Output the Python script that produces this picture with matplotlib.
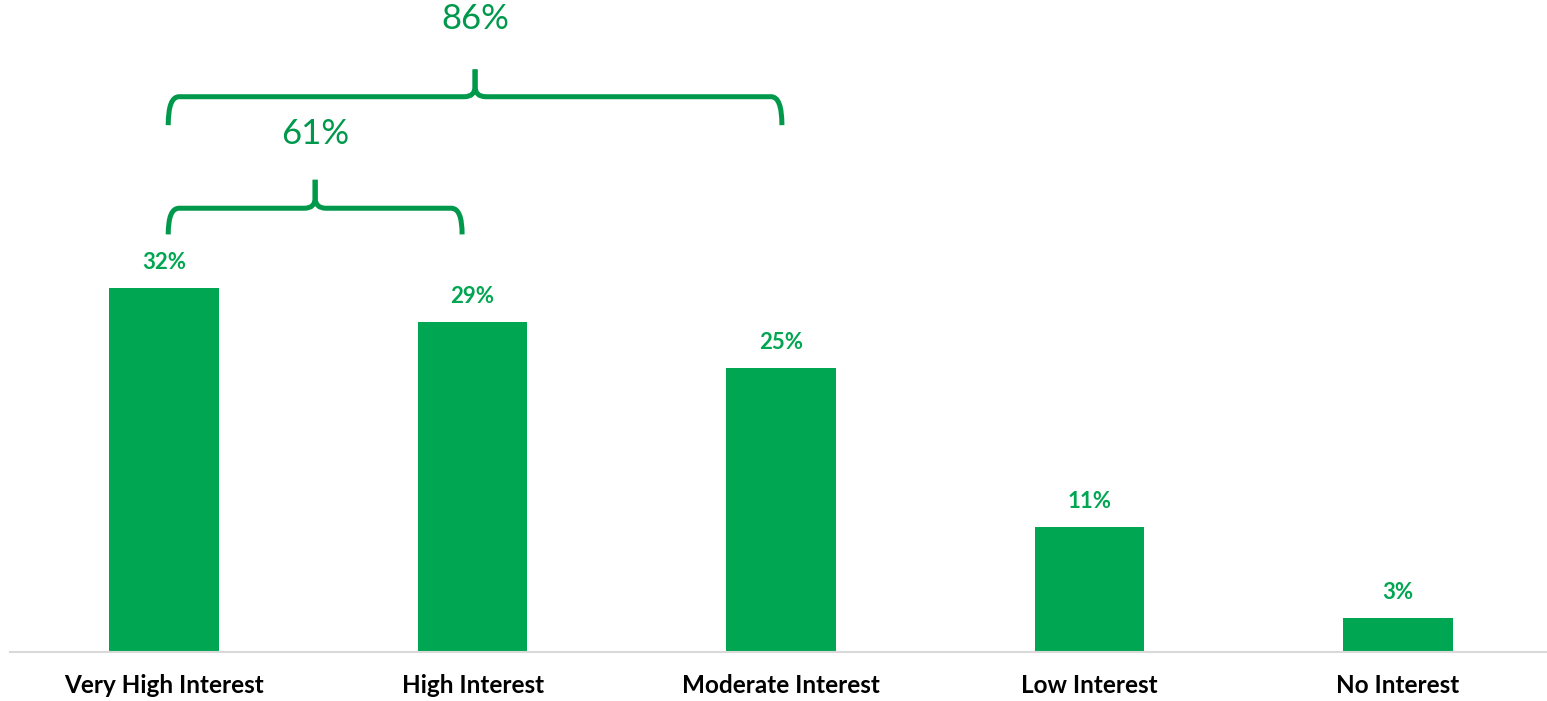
import matplotlib
matplotlib.use("Agg")
import matplotlib.pyplot as plt
from matplotlib.path import Path
from matplotlib.patches import PathPatch
import numpy as np

categories = ["Very High Interest", "High Interest", "Moderate Interest", "Low Interest", "No Interest"]
values = [32, 29, 25, 11, 3]

# brace groups: (first index, last index, label)
brace_spans = [(0, 1), (0, 2)]
brace_labels = ["61%", "86%"]

BAR_GREEN = "#00A651"
BRACE_GREEN = "#00994C"

plt.rcParams["font.family"] = ["Lato", "DejaVu Sans"]


def draw_brace(ax, x0, x1, y_bar, y_end, y_tip, color):
    xm = (x0 + x1) / 2
    dx = 0.035
    dy = 0.9
    for sx, side in ((x0, 1), (x1, -1)):
        verts = [
            (sx, y_end),
            (sx, y_bar),
            (sx + side * dx, y_bar),
            (xm - side * dx, y_bar),
            (xm, y_bar),
            (xm, y_bar + dy),
            (xm, y_tip),
        ]
        codes = [Path.MOVETO, Path.CURVE3, Path.CURVE3, Path.LINETO,
                 Path.CURVE3, Path.CURVE3, Path.LINETO]
        ax.add_patch(PathPatch(Path(verts, codes), fill=False, edgecolor=color,
                               lw=3.6, capstyle="butt", joinstyle="round"))


fig = plt.figure(figsize=(15.47, 7.01), dpi=100)
ax = fig.add_axes([10 / 1547, 49 / 701, 1542 / 1547, 652 / 701])

x = np.arange(len(categories))
ax.bar(x, values, width=0.355, color=BAR_GREEN, zorder=2)

for xi, v in zip(x, values):
    ax.text(xi, v + 1.3, f"{v}%", ha="center", va="bottom", fontsize=16,
            fontweight="bold", color=BAR_GREEN)

# bracket geometry (data units): bar level, end level, tip level, label level
brace_levels = [(39.0, 36.7, 41.5, 45.5), (48.8, 46.3, 51.2, 55.6)]
brace_insets = [(0.013, -0.034), (0.013, 0.003)]
for (i0, i1), label, (yb, ye, yt, yl), (l_in, r_in) in zip(
        brace_spans, brace_labels, brace_levels, brace_insets):
    x0 = x[i0] + l_in
    x1 = x[i1] + r_in
    draw_brace(ax, x0, x1, yb, ye, yt, BRACE_GREEN)
    ax.text((x0 + x1) / 2, yl, label, ha="center", va="center", fontsize=25,
            color=BRACE_GREEN)

ax.set_xlim(-0.5, 4.5)
ax.set_ylim(0, 57.3)
ax.set_xticks(x)
ax.set_xticklabels(categories, fontsize=17.5, fontweight="bold")
ax.tick_params(axis="x", length=0, pad=16)
ax.set_yticks([])
for side in ("top", "right", "left"):
    ax.spines[side].set_visible(False)
ax.spines["bottom"].set_color("#D9D9D9")
ax.spines["bottom"].set_linewidth(1.5)

fig.savefig("out.png", dpi=100)
